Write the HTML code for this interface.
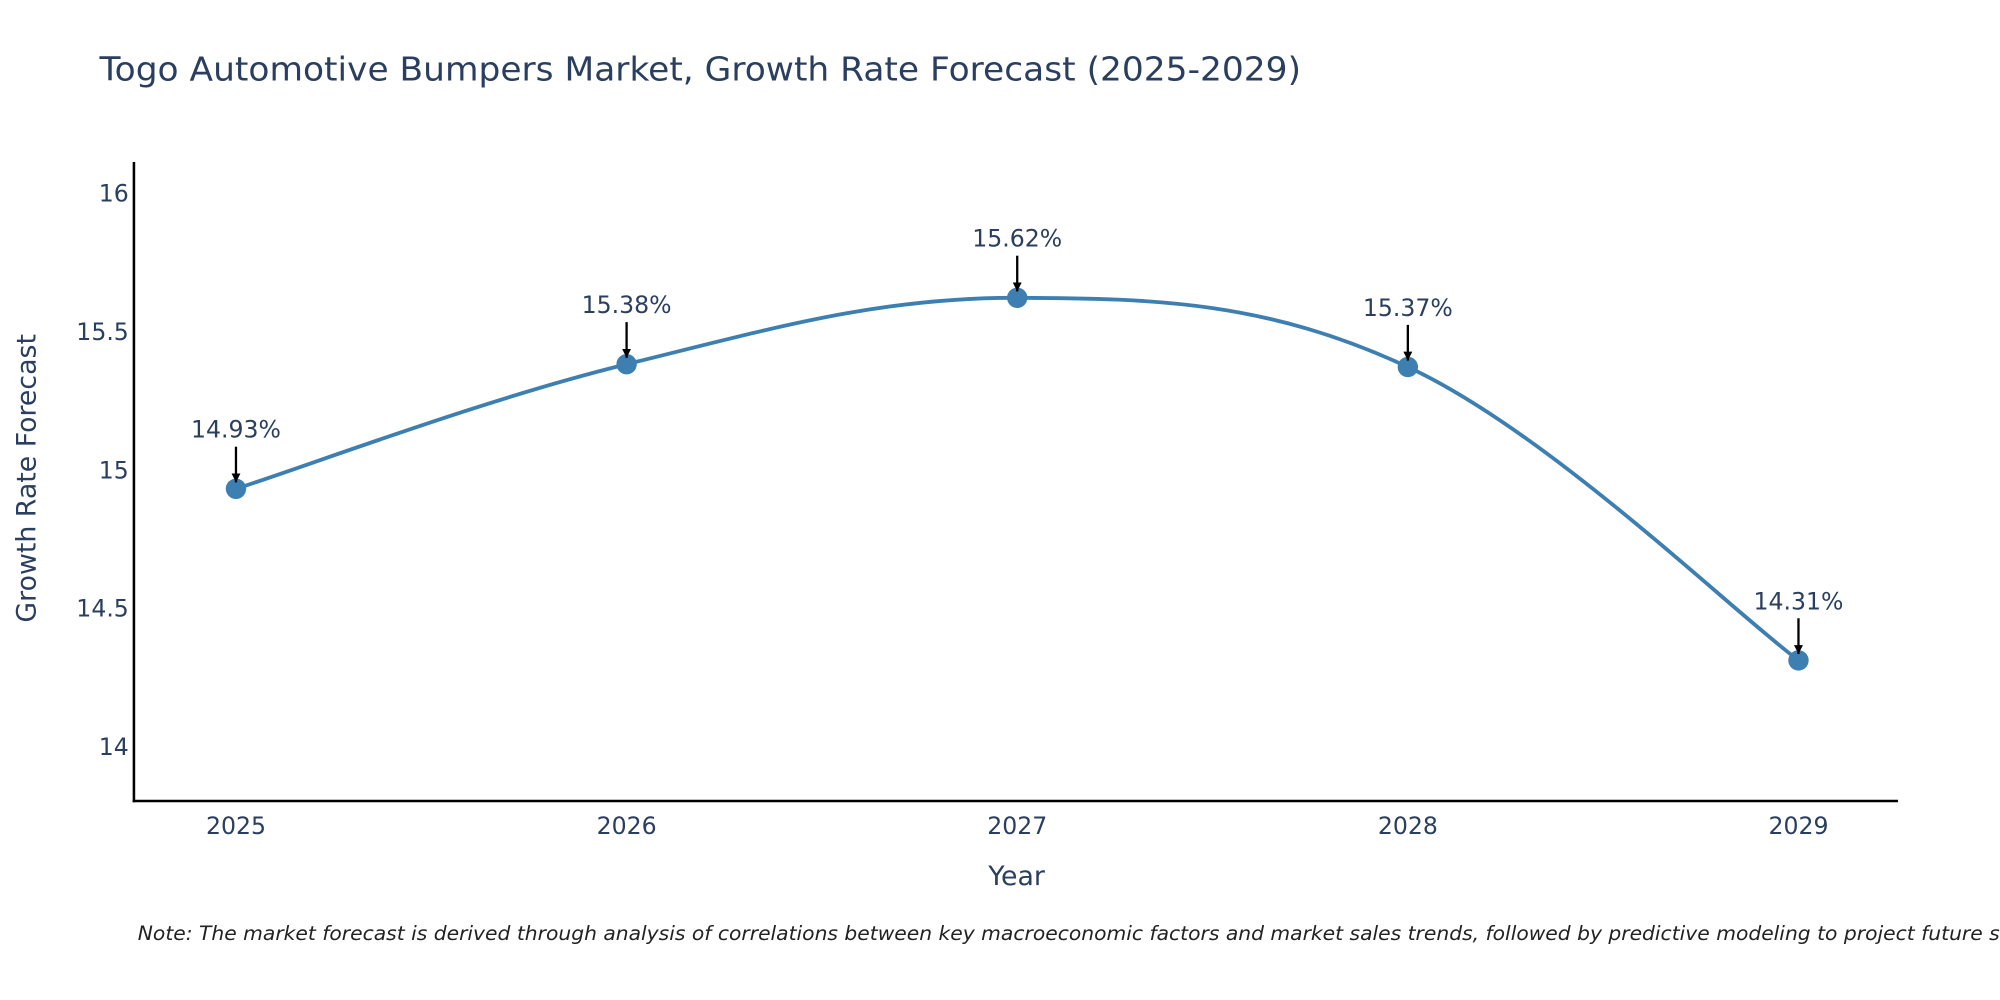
<!DOCTYPE html>
<html><head><meta charset="utf-8"><style>html,body{margin:0;padding:0;background:#fff;overflow:hidden}svg{display:block}</style></head>
<body>
<svg id="chart" width="2000" height="1000" viewBox="0 0 1568 784" xmlns="http://www.w3.org/2000/svg" font-family="'DejaVu Sans','Liberation Sans',sans-serif">
<defs><marker id="ah" viewBox="0 0 10 10" refX="10" refY="5" markerWidth="7" markerHeight="7" markerUnits="userSpaceOnUse" orient="auto"><path d="M0,0L10,5L0,10z" fill="#000"/></marker></defs>
<text x="78" y="63" font-size="25.5" fill="#2a3f5f" textLength="942" lengthAdjust="spacingAndGlyphs">Togo Automotive Bumpers Market, Growth Rate Forecast (2025-2029)</text>
<g id="plot"></g>
<text transform="translate(28,375) rotate(-90)" text-anchor="middle" font-size="21" fill="#2a3f5f">Growth Rate Forecast</text>
<text x="797" y="694" text-anchor="middle" font-size="21" fill="#2a3f5f">Year</text>
<text x="108" y="737" font-size="15.5" font-style="italic" fill="#222" textLength="1492" lengthAdjust="spacingAndGlyphs">Note: The market forecast is derived through analysis of correlations between key macroeconomic factors and market sales trends, followed by predictive modeling to project future sales</text>
</svg>
<script>
const years = [2025, 2026, 2027, 2028, 2029];
const values = [14.93, 15.38, 15.62, 15.37, 14.31];
const yTicks = [14, 14.5, 15, 15.5, 16];
const NS = 'http://www.w3.org/2000/svg';
const L = 105, R = 1488, T = 127, B = 628;
const x = yr => 185 + (yr - 2025) * (1410 - 185) / 4;
const y = v => 585 - (v - 14) * 217;
const g = document.getElementById('plot');
function mk(tag, attrs, txt) { const e = document.createElementNS(NS, tag); for (const k in attrs) e.setAttribute(k, attrs[k]); if (txt !== undefined) e.textContent = txt; g.appendChild(e); return e; }
let e = mk('line', {x1: L, y1: T, x2: L, y2: B + 1, stroke: '#000', 'stroke-width': 2});


e = mk('line', {x1: L - 1, y1: B, x2: R, y2: B, stroke: '#000', 'stroke-width': 2});


yTicks.forEach(t => {
  const el = mk('text', {x: 101, y: y(t) + 7, 'text-anchor': 'end', 'font-size': 18.5, fill: '#2a3f5f'}, String(t));
  
  
});
years.forEach(yr => {
  const el = mk('text', {x: x(yr), y: 654, 'text-anchor': 'middle', 'font-size': 18.5, fill: '#2a3f5f'}, String(yr));
  
  
});
const pts = years.map((yr, i) => [x(yr), y(values[i])]);
let d = 'M' + pts[0].join(',');
const s = 0.18;
for (let i = 0; i < pts.length - 1; i++) {
  const p0 = pts[Math.max(0, i - 1)], p1 = pts[i], p2 = pts[i + 1], p3 = pts[Math.min(pts.length - 1, i + 2)];
  const c1 = [p1[0] + (p2[0] - p0[0]) * s, p1[1] + (p2[1] - p0[1]) * s];
  const c2 = [p2[0] - (p3[0] - p1[0]) * s, p2[1] - (p3[1] - p1[1]) * s];
  d += ` C${c1} ${c2} ${p2}`;
}
e = mk('path', {d: d, fill: 'none', stroke: '#3d7fb0', 'stroke-width': 3});


pts.forEach((p, i) => {
  const c = mk('circle', {cx: p[0], cy: p[1], r: 8, fill: '#3d7fb0'});
  
  
  const a = mk('line', {x1: p[0], y1: p[1] - 33, x2: p[0], y2: p[1] - 5, stroke: '#000', 'stroke-width': 1.8, 'marker-end': 'url(#ah)'});
  
  
  const t = mk('text', {x: p[0], y: p[1] - 40, 'text-anchor': 'middle', 'font-size': 18.5, fill: '#2a3f5f'}, values[i].toFixed(2) + '%');
  
  
});
</script>
</body></html>
